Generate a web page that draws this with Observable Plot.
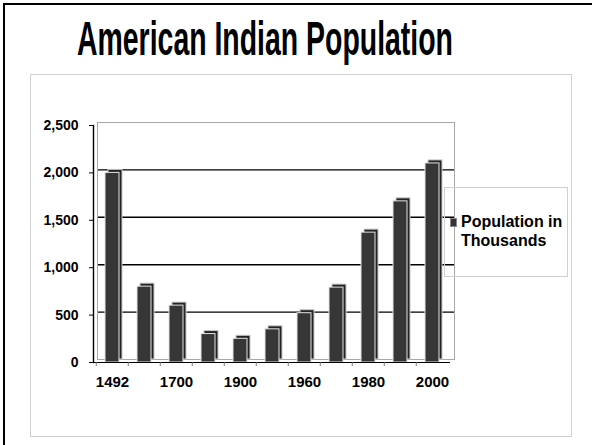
<!DOCTYPE html>
<html><head><meta charset="utf-8">
<script src="https://cdn.jsdelivr.net/npm/d3@7"></script>
<script src="https://cdn.jsdelivr.net/npm/@observablehq/plot@0.6"></script>
<style>
body{margin:0;background:#fff;}
#wrap{position:relative;width:592px;height:445px;overflow:hidden;font-family:"Liberation Sans",Arial,sans-serif;}
#outer{position:absolute;left:3px;top:3px;width:640px;height:640px;border:2px solid #000;box-sizing:border-box}
#inner{position:absolute;left:30px;top:74px;width:542px;height:363px;border:1px solid #d0d0d0;box-sizing:border-box}
#title{position:absolute;left:0;top:14px;width:592px;height:60px;font-family:"Liberation Sans Narrow","Liberation Sans",Arial,sans-serif;font-weight:bold;font-size:49px;line-height:49px;white-space:nowrap}
#title span{position:absolute;left:50%;top:0;display:inline-block;transform-origin:center}
#chart{position:absolute;left:0;top:80px}
#legend{position:absolute;left:444px;top:187px;width:124px;height:90px;border:1px solid #d0d0d0;box-sizing:border-box}
#legend .sw{position:absolute;left:5px;top:30px;width:7px;height:9px;background:#363636;border:1px solid #888;box-sizing:border-box}
#legend .tx{position:absolute;left:16px;top:24px;font-weight:bold;font-size:16px;line-height:19px}
</style></head>
<body>
<div id="wrap">
  <div id="outer"></div>
  <div id="inner"></div>
  <div id="title"><span id="tspan">American Indian Population</span></div>
  <div id="chart"></div>
  <div id="legend"><div class="sw"></div><div class="tx">Population in<br>Thousands</div></div>
</div>
<script>
const years = ["1492","1600","1700","1800","1900","1950","1960","1970","1980","1990","2000"];
const population = [2000, 800, 600, 300, 250, 350, 520, 790, 1370, 1700, 2100];
const yTicks = [0, 500, 1000, 1500, 2000, 2500];
const gridTicks = [500, 1000, 1500, 2000];

const data = years.map((year, i) => ({year, value: population[i]}));

const chart = Plot.plot({
  width: 592, height: 330,
  marginLeft: 93, marginRight: 142, marginTop: 45, marginBottom: 48,
  style: {background: "transparent", fontFamily: "Liberation Sans, Arial, sans-serif", fontWeight: "bold", color: "#000", overflow: "visible"},
  x: {domain: years, padding: 0, label: null},
  y: {domain: [0, 2500], label: null},
  marks: [
    Plot.ruleY(gridTicks, {stroke: "#000", strokeWidth: 1.4, dx: 4, dy: -3}),
    Plot.frame({stroke: "#a8a8a8", dx: 4, dy: -3}),
    Plot.rectY(data, {x: "year", y: "value", fill: "#242424", stroke: "#c8c8c8", insetLeft: 9, insetRight: 9, dx: 3, dy: -3}),
    Plot.rectY(data, {x: "year", y: "value", fill: "#363636", stroke: "#e4e4e4", insetLeft: 9, insetRight: 9}),
    Plot.ruleY([0], {stroke: "#000", strokeWidth: 1.2}),
    Plot.frame({anchor: "left", stroke: "#000", strokeWidth: 1.4}),
    Plot.axisY({ticks: yTicks, tickFormat: d3.format(","), tickSize: 4, tickPadding: 11, fontSize: 14, fontWeight: "bold"}),
    Plot.axisX({tickSize: 0, tickPadding: 14, tickFormat: (d, i) => i % 2 === 0 ? d : "", fontSize: 15, fontWeight: "bold"}),
    Plot.axisX({tickSize: 4, tickFormat: () => "", dx: -16.25, stroke: "#777"})
  ]
});
document.getElementById("chart").appendChild(chart);

// fit title width (narrow face), centred at 265px
const ts = document.getElementById("tspan");
const w = ts.getBoundingClientRect().width;
ts.style.left = (265 - w / 2) + "px";
ts.style.transform = `scaleX(${376 / w})`;
</script>
</body></html>
